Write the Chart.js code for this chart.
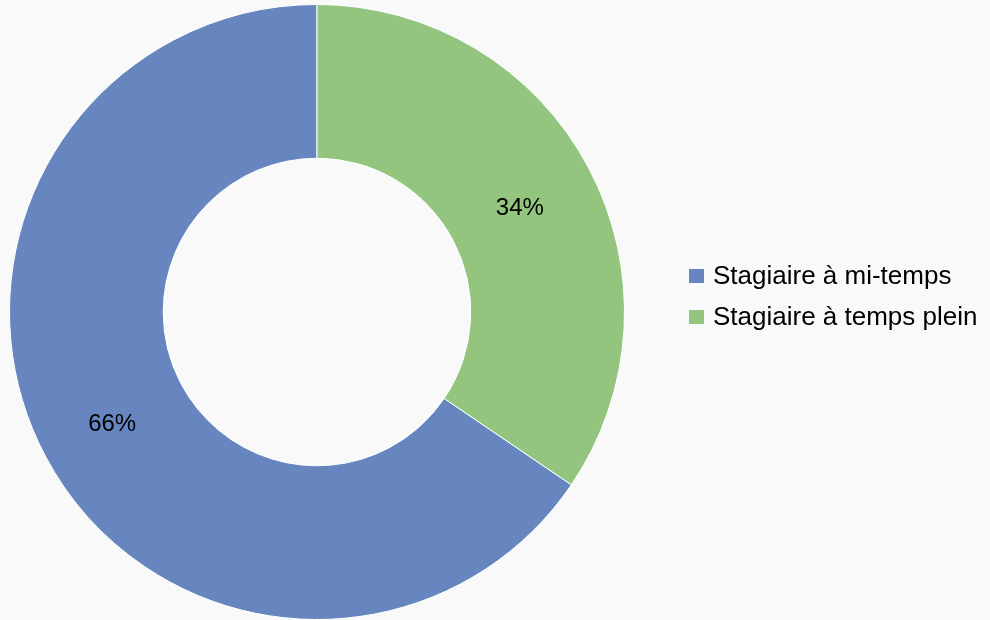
<!DOCTYPE html>
<html lang="fr">
<head>
<meta charset="UTF-8">
<title>Stagiaires</title>
<script src="https://cdn.jsdelivr.net/npm/chart.js@4.4.1/dist/chart.umd.min.js"></script>
<style>
    body { margin: 0; background: #f9f9f9; font-family: "Liberation Sans", Arial, sans-serif; }
    #wrap { position: relative; width: 990px; height: 620px; }
    #legende { position: absolute; left: 689px; top: 255px; }
    .item { display: flex; align-items: center; height: 41px; font-size: 26px; color: #000; white-space: nowrap; }
    .carre { width: 15px; height: 14px; margin-right: 9px; }
</style>
</head>
<body>
<div id="wrap">
    <canvas id="myChart" width="990" height="620"></canvas>
    <div id="legende"></div>
</div>
<script>
    const categories = ['Stagiaire à mi-temps', 'Stagiaire à temps plein'];
    const valeurs = [65.5, 34.5];
    const etiquettes = ['66%', '34%'];
    const couleurs = ['#6786c0', '#93c57f'];

    // étiquettes au milieu de chaque part
    const pourcentages = {
        id: 'pourcentages',
        afterDatasetsDraw(chart) {
            const c = chart.ctx;
            c.save();
            c.font = '24px "Liberation Sans", Arial, sans-serif';
            c.fillStyle = '#000';
            c.textAlign = 'center';
            c.textBaseline = 'middle';
            chart.getDatasetMeta(0).data.forEach((arc, i) => {
                const p = arc.tooltipPosition();
                c.fillText(etiquettes[i], p.x - 1, p.y + 4);
            });
            c.restore();
        }
    };

    const ctx = document.getElementById('myChart').getContext('2d');
    new Chart(ctx, {
        type: 'doughnut',
        data: {
            labels: categories,
            datasets: [{
                data: valeurs,
                backgroundColor: couleurs,
                borderColor: '#ffffff',
                borderWidth: 1
            }]
        },
        options: {
            responsive: false,
            animation: false,
            cutout: '50%',
            rotation: 124.2,
            layout: { padding: { left: 8, right: 364, top: 4, bottom: 0 } },
            plugins: {
                legend: { display: false },
                tooltip: { enabled: false }
            }
        },
        plugins: [pourcentages]
    });

    const leg = document.getElementById('legende');
    categories.forEach((nom, i) => {
        const d = document.createElement('div');
        d.className = 'item';
        d.innerHTML = '<span class="carre" style="background:' + couleurs[i] + '"></span>' + nom;
        leg.appendChild(d);
    });
</script>
</body>
</html>
